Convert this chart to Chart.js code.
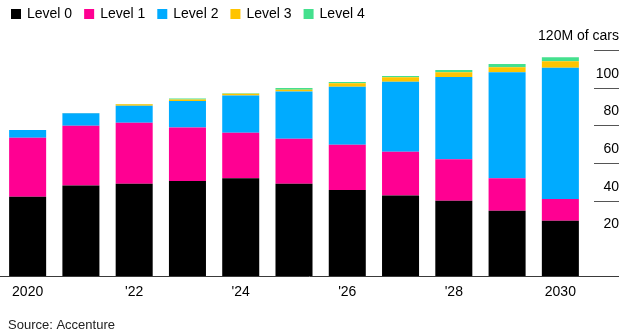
<!DOCTYPE html>
<html>
<head>
<meta charset="utf-8">
<style>
  html, body { margin: 0; padding: 0; background: #ffffff; }
  canvas { display: block; }
</style>
<script src="https://cdn.jsdelivr.net/npm/chart.js@4/dist/chart.umd.min.js"></script>
</head>
<body>
<canvas id="chart" width="626" height="331"></canvas>
<script>
// Cars on the road by driving-automation level, millions
const years = ['2020', '2021', '2022', '2023', '2024', '2025', '2026', '2027', '2028', '2029', '2030'];
const yearTickLabels = ['2020', '', "'22", '', "'24", '', "'26", '', "'28", '', '2030'];

const level0 = [42.1, 48.0, 49.0, 50.5, 51.9, 49.0, 45.7, 42.7, 40.0, 34.7, 29.3];
const level1 = [31.3, 31.8, 32.4, 28.3, 24.2, 23.9, 24.0, 23.3, 22.0, 17.2, 11.6];
const level2 = [4.1, 6.6, 9.0, 14.1, 19.7, 25.0, 30.8, 37.2, 43.7, 56.3, 69.7];
const level3 = [0, 0.1, 0.8, 0.8, 1.0, 1.0, 1.8, 2.3, 2.5, 2.6, 3.4];
const level4 = [0, 0, 0.1, 0.6, 0.3, 0.9, 0.7, 0.7, 1.2, 1.8, 2.1];

const seriesNames = ['Level 0', 'Level 1', 'Level 2', 'Level 3', 'Level 4'];
const seriesColors = ['#000000', '#ff0092', '#00abff', '#ffc400', '#44e08e'];

const yTickValues = [20, 40, 60, 80, 100, 120];
const yTickLabels = ['20', '40', '60', '80', '100', '120M of cars'];
const sourceNote = 'Source: Accenture';

const FONT = "'Liberation Sans', Arial, Helvetica, sans-serif";

// Legend, right-hand value labels with rules, baseline and source line
const decorations = {
  id: 'decorations',
  afterDraw(chart) {
    const { ctx, scales } = chart;
    const y = scales.y;
    ctx.save();

    // baseline running under the bars and the value labels
    const base = Math.round(y.getPixelForValue(0)) + 0.5;
    ctx.strokeStyle = '#3a3a3a';
    ctx.lineWidth = 1;
    ctx.beginPath();
    ctx.moveTo(0, base);
    ctx.lineTo(619, base);
    ctx.stroke();

    // value labels sit above short rules; the lowest label has no rule
    ctx.font = '14px ' + FONT;
    ctx.fillStyle = '#000000';
    ctx.textAlign = 'right';
    ctx.textBaseline = 'middle';
    yTickValues.forEach((v, i) => {
      const py = y.getPixelForValue(v);
      if (i > 0) {
        const ry = Math.round(py) + 0.5;
        ctx.strokeStyle = '#555555';
        ctx.beginPath();
        ctx.moveTo(594, ry);
        ctx.lineTo(619, ry);
        ctx.stroke();
      }
      ctx.fillText(yTickLabels[i], 619, py - 14);
    });

    // legend
    ctx.textAlign = 'left';
    let lx = 11;
    chart.data.datasets.forEach(ds => {
      ctx.fillStyle = ds.backgroundColor;
      ctx.fillRect(lx, 9, 10, 10);
      ctx.fillStyle = '#000000';
      ctx.fillText(ds.label, lx + 16, 14.5);
      lx += 16 + ctx.measureText(ds.label).width + 12;
    });

    // source line
    ctx.font = '13px ' + FONT;
    ctx.fillStyle = '#222222';
    ctx.fillText(sourceNote, 8, 325);

    ctx.restore();
  }
};

const seriesValues = [level0, level1, level2, level3, level4];

new Chart(document.getElementById('chart'), {
  type: 'bar',
  data: {
    labels: years,
    datasets: seriesValues.map((vals, i) => ({
      label: seriesNames[i],
      data: vals,
      backgroundColor: seriesColors[i],
      borderWidth: 0,
      categoryPercentage: 1,
      barPercentage: 0.695
    }))
  },
  options: {
    responsive: false,
    animation: false,
    layout: { padding: { top: 50, left: 1, right: 39, bottom: 30 } },
    plugins: {
      legend: { display: false },
      tooltip: { enabled: false }
    },
    scales: {
      x: {
        stacked: true,
        grid: { display: false, drawTicks: false },
        border: { display: false },
        ticks: {
          autoSkip: false,
          maxRotation: 0,
          padding: 8,
          color: '#000000',
          font: { family: FONT, size: 14 },
          callback: (val, idx) => yearTickLabels[idx]
        },
        afterFit: (scale) => { scale.height = 25; }
      },
      y: {
        stacked: true,
        display: false,
        min: 0,
        max: 120
      }
    }
  },
  plugins: [decorations]
});
</script>
</body>
</html>
